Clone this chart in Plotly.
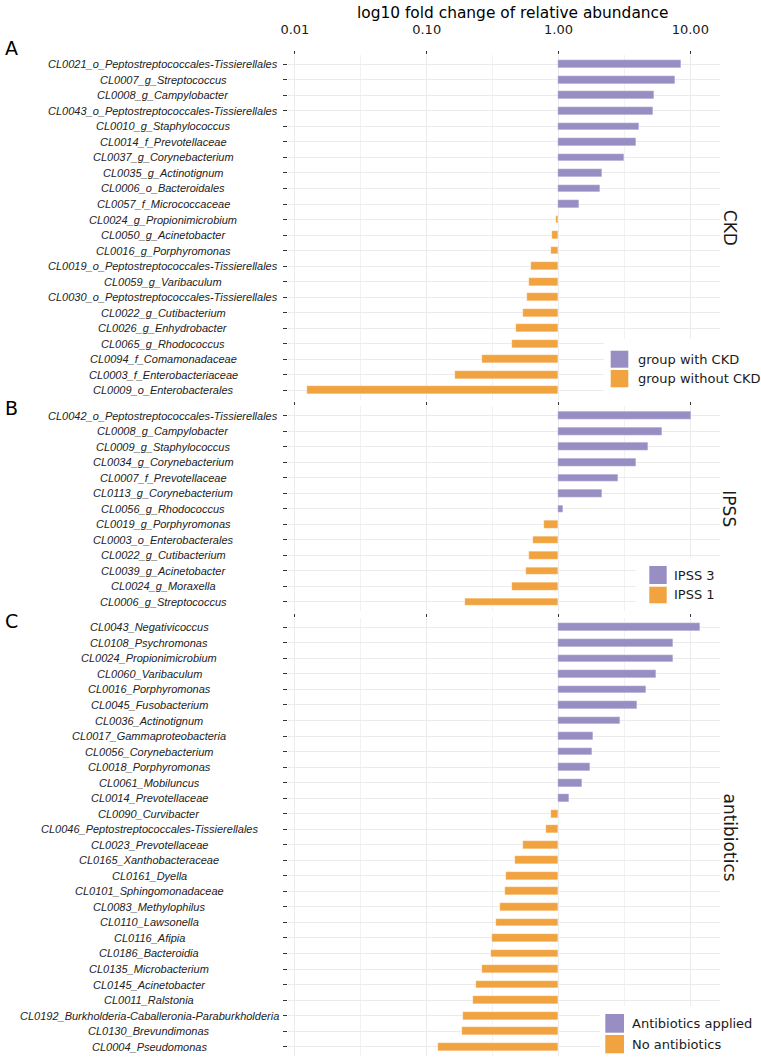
import plotly.graph_objects as go

# ---------------- data ----------------
ckd_taxa = [
    "CL0021_o_Peptostreptococcales-Tissierellales", "CL0007_g_Streptococcus", "CL0008_g_Campylobacter",
    "CL0043_o_Peptostreptococcales-Tissierellales", "CL0010_g_Staphylococcus", "CL0014_f_Prevotellaceae",
    "CL0037_g_Corynebacterium", "CL0035_g_Actinotignum", "CL0006_o_Bacteroidales", "CL0057_f_Micrococcaceae",
    "CL0024_g_Propionimicrobium", "CL0050_g_Acinetobacter", "CL0016_g_Porphyromonas",
    "CL0019_o_Peptostreptococcales-Tissierellales", "CL0059_g_Varibaculum",
    "CL0030_o_Peptostreptococcales-Tissierellales", "CL0022_g_Cutibacterium", "CL0026_g_Enhydrobacter",
    "CL0065_g_Rhodococcus", "CL0094_f_Comamonadaceae", "CL0003_f_Enterobacteriaceae", "CL0009_o_Enterobacterales",
]
ckd_fc = [8.5, 7.66, 5.3, 5.25, 4.08, 3.88, 3.13, 2.12, 2.07, 1.43, 0.962, 0.90, 0.875,
          0.62, 0.593, 0.58, 0.537, 0.472, 0.446, 0.265, 0.163, 0.0124]

ipss_taxa = [
    "CL0042_o_Peptostreptococcales-Tissierellales", "CL0008_g_Campylobacter", "CL0009_g_Staphylococcus",
    "CL0034_g_Corynebacterium", "CL0007_f_Prevotellaceae", "CL0113_g_Corynebacterium", "CL0056_g_Rhodococcus",
    "CL0019_g_Porphyromonas", "CL0003_o_Enterobacterales", "CL0022_g_Cutibacterium", "CL0039_g_Acinetobacter",
    "CL0024_g_Moraxella", "CL0006_g_Streptococcus",
]
ipss_fc = [10.07, 6.14, 4.81, 3.90, 2.85, 2.14, 1.09, 0.78, 0.643, 0.60, 0.569, 0.446, 0.196]

abx_taxa = [
    "CL0043_Negativicoccus", "CL0108_Psychromonas", "CL0024_Propionimicrobium", "CL0060_Varibaculum",
    "CL0016_Porphyromonas", "CL0045_Fusobacterium", "CL0036_Actinotignum", "CL0017_Gammaproteobacteria",
    "CL0056_Corynebacterium", "CL0018_Porphyromonas", "CL0061_Mobiluncus", "CL0014_Prevotellaceae",
    "CL0090_Curvibacter", "CL0046_Peptostreptococcales-Tissierellales", "CL0023_Prevotellaceae",
    "CL0165_Xanthobacteraceae", "CL0161_Dyella", "CL0101_Sphingomonadaceae", "CL0083_Methylophilus",
    "CL0110_Lawsonella", "CL0116_Afipia", "CL0186_Bacteroidia", "CL0135_Microbacterium", "CL0145_Acinetobacter",
    "CL0011_Ralstonia", "CL0192_Burkholderia-Caballeronia-Paraburkholderia", "CL0130_Brevundimonas",
    "CL0004_Pseudomonas",
]
abx_fc = [11.8, 7.43, 7.4, 5.5, 4.59, 3.95, 2.92, 1.82, 1.79, 1.72, 1.52, 1.20, 0.88, 0.80,
          0.54, 0.47, 0.40, 0.395, 0.362, 0.337, 0.315, 0.309, 0.261, 0.238, 0.223, 0.1875, 0.1855, 0.121]

panel_letters = ["A", "B", "C"]
strip_labels = ["CKD", "IPSS", "antibiotics"]
series_names = [
    ["group with CKD", "group without CKD"],
    ["IPSS 3", "IPSS 1"],
    ["Antibiotics applied", "No antibiotics"],
]
tick_vals = [0.01, 0.1, 1, 10]
tick_text = ["0.01", "0.10", "1.00", "10.00"]
minor_vals = [10 ** -1.5, 10 ** -0.5, 10 ** 0.5]
x_title = "log10 fold change of relative abundance"

PURPLE = "#998ec3"
ORANGE = "#f1a340"
GRID = "#ebebeb"

# ---------------- geometry helpers (pixel -> paper) ----------------
W, H = 761, 1059
L, R, T, B = 288, 41, 55, 3
PW, PH = W - L - R, H - T - B


def px(xp):
    return (xp - L) / PW


def py(yp):
    return (H - B - yp) / PH


panels = [
    (ckd_taxa, ckd_fc, (399.6, 55.0), 163),
    (ipss_taxa, ipss_fc, (611.3, 406.4), 163),
    (abx_taxa, abx_fc, (1056.0, 618.0), 149),
]

fig = go.Figure()
annotations = []
shapes = []

for i, (taxa, fc, (ybot, ytop), label_cx) in enumerate(panels):
    k = "" if i == 0 else str(i + 1)
    yref = "y" + k
    xref = "x" + k
    up = [(t, v) for t, v in zip(taxa, fc) if v >= 1]
    dn = [(t, v) for t, v in zip(taxa, fc) if v < 1]
    for grp, col, name in ((up, PURPLE, series_names[i][0]), (dn, ORANGE, series_names[i][1])):
        fig.add_trace(go.Bar(
            orientation="h",
            y=[t for t, _ in grp],
            x=[abs(v - 1) for _, v in grp],
            base=[min(v, 1) for _, v in grp],
            width=0.5,
            marker=dict(color=col, line=dict(color="rgba(255,255,255,0.6)", width=0.4)),
            name=name, showlegend=False,
            xaxis=xref, yaxis=yref,
        ))
    n = len(taxa)
    fig.update_layout(**{
        "yaxis" + k: dict(
            domain=[max(py(ybot), 0), min(py(ytop), 1)],
            anchor=xref, type="category", categoryorder="array", categoryarray=taxa,
            range=[n - 0.4, -0.6], showticklabels=False,
            ticks="outside", ticklen=4, tickcolor="#333333", tickwidth=1,
            showgrid=True, gridcolor=GRID, gridwidth=1, zeroline=False, showline=False,
        ),
        "xaxis" + k: dict(
            domain=[0, 1], anchor=yref, side="top", type="log",
            range=[-2.052, 1.2253], tickvals=tick_vals, ticktext=tick_text,
            showticklabels=(i == 0),
            ticks="outside", ticklen=3, tickcolor="#333333", tickwidth=1,
            tickfont=dict(family="DejaVu Sans", size=13, color="#1a1a1a"),
            ticklabelstandoff=12,
            showgrid=True, gridcolor=GRID, gridwidth=1, zeroline=False, showline=False,
            minor=dict(tickvals=minor_vals, showgrid=True, gridcolor="#f2f2f2", gridwidth=0.8, ticks=""),
            **({} if i == 0 else {"matches": "x"}),
        ),
    })
    # centered y category labels
    for t in taxa:
        annotations.append(dict(
            x=px(label_cx), xref="paper", y=t, yref=yref, text=t, showarrow=False,
            xanchor="center", yanchor="middle",
            font=dict(family="Liberation Sans", size=11, color="#222222", style="italic"),
        ))
    # strip label
    annotations.append(dict(
        x=px(729.5), xref="paper", y=py((ybot + ytop) / 2), yref="paper", text=strip_labels[i],
        showarrow=False, textangle=90, xanchor="center", yanchor="middle",
        font=dict(family="DejaVu Sans", size=17, color="#1a1a1a"),
    ))

# panel letters
for letter, yc in zip(panel_letters, [48, 408, 621]):
    annotations.append(dict(
        x=px(11), xref="paper", y=py(yc), yref="paper", text=letter, showarrow=False,
        xanchor="center", yanchor="middle", font=dict(family="DejaVu Sans", size=19, color="#000000"),
    ))

# axis title
annotations.append(dict(
    x=px(513), xref="paper", y=py(13), yref="paper", text=x_title, showarrow=False,
    xanchor="center", yanchor="middle", font=dict(family="DejaVu Sans", size=15.4, color="#000000"),
))

# legends drawn as keys on white boxes
legend_specs = [
    # box (x0, y0, x1, y1), key x0, key x1, key rows (y0, y1), text x
    ((604, 339, 761, 400), 610.7, 628.3, [(350.7, 367.7), (370.0, 387.3)], 635.7),
    ((636, 558, 761, 612), 649.3, 666.7, [(566.0, 584.0), (586.7, 603.3)], 671.7),
    ((600, 1006, 761, 1059), 605.3, 624.0, [(1014.0, 1032.7), (1035.0, 1053.3)], 630.0),
]
for i, (box, kx0, kx1, rows, tx) in enumerate(legend_specs):
    shapes.append(dict(type="rect", xref="paper", yref="paper", layer="above",
                       x0=px(box[0]), x1=px(box[2]), y0=py(box[3]), y1=py(box[1]),
                       fillcolor="white", line=dict(width=0)))
    for (ky0, ky1), col, name in zip(rows, (PURPLE, ORANGE), series_names[i]):
        shapes.append(dict(type="rect", xref="paper", yref="paper", layer="above",
                           x0=px(kx0), x1=px(kx1), y0=py(ky1), y1=py(ky0),
                           fillcolor=col, line=dict(width=0)))
        annotations.append(dict(
            x=px(tx), xref="paper", y=py((ky0 + ky1) / 2), yref="paper", text=name,
            showarrow=False, xanchor="left", yanchor="middle",
            font=dict(family="DejaVu Sans", size=13, color="#1a1a1a"),
        ))

fig.update_layout(
    width=W, height=H,
    margin=dict(l=L, r=R, t=T, b=B, autoexpand=False),
    paper_bgcolor="white", plot_bgcolor="white",
    barmode="overlay", bargap=0,
    showlegend=False,
    annotations=annotations, shapes=shapes,
    font=dict(family="DejaVu Sans"),
)

fig.write_html(
    "out.html",
    config={"displayModeBar": False},
    post_script="document.body.style.margin='0px';document.body.style.overflow='hidden';",
)
